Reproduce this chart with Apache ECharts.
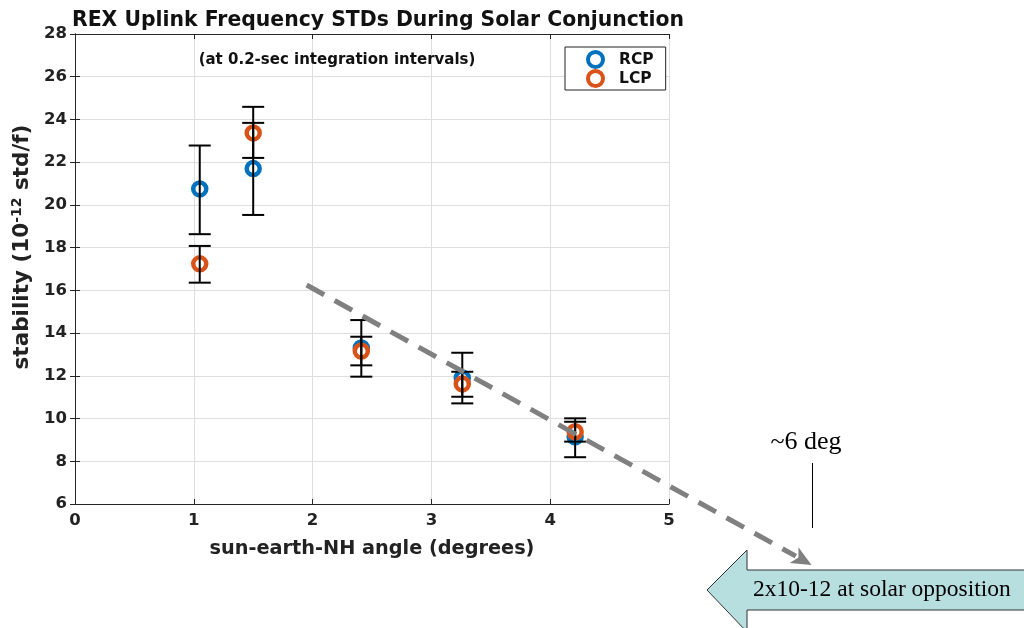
<!DOCTYPE html>
<html>
<head>
<meta charset="utf-8">
<script src="https://cdn.jsdelivr.net/npm/echarts@6/dist/echarts.min.js"></script>
<style>
html,body{margin:0;padding:0;background:#fff;}
#chart{width:1024px;height:628px;}
</style>
</head>
<body>
<div id="chart"></div>
<script>
// ---- data ----
const angles   = [1.05, 1.5, 2.41, 3.26, 4.21];
const rcp      = [20.75, 21.7, 13.3, 11.9, 9.15];
const rcpLow   = [18.63, 19.53, 11.96, 10.71, 8.19];
const rcpHigh  = [22.78, 23.84, 14.61, 13.08, 9.85];
const lcp      = [17.24, 23.37, 13.16, 11.62, 9.38];
const lcpLow   = [16.36, 22.2, 12.49, 11.02, 8.92];
const lcpHigh  = [18.08, 24.59, 13.83, 12.19, 10.01];
const trendStart = [1.95, 16.25];
const trendEnd   = [6.2, 3.15];
const xTicks = [0, 1, 2, 3, 4, 5];
const yTicks = [6, 8, 10, 12, 14, 16, 18, 20, 22, 24, 26, 28];

const blue = '#0072BD', orange = '#D95319';
const FONT = 'DejaVu Sans';
const chart = echarts.init(document.getElementById('chart'));

function errRender(params, api) {
  const x = api.value(0);
  const lo = api.coord([x, api.value(1)]);
  const hi = api.coord([x, api.value(2)]);
  const w = 11;
  const st = {stroke: '#000', lineWidth: 2};
  return {type: 'group', children: [
    {type: 'line', shape: {x1: lo[0], y1: lo[1], x2: hi[0], y2: hi[1]}, style: st},
    {type: 'line', shape: {x1: lo[0]-w, y1: lo[1], x2: lo[0]+w, y2: lo[1]}, style: st},
    {type: 'line', shape: {x1: hi[0]-w, y1: hi[1], x2: hi[0]+w, y2: hi[1]}, style: st}
  ]};
}

const axisFont = {fontFamily: FONT, fontWeight: 'bold', fontSize: 16.5, color: '#222'};
const xMin = xTicks[0], xMax = xTicks[xTicks.length-1];
const yMin = yTicks[0], yMax = yTicks[yTicks.length-1];

const option = {
  backgroundColor: '#fff',
  animation: false,
  title: [{
    text: 'REX Uplink Frequency STDs During Solar Conjunction',
    left: 373, top: 6, textAlign: 'center',
    textStyle: {fontFamily: FONT, fontWeight: 'bold', fontSize: 20.4, color: '#111'}
  }, {
    text: '(at 0.2-sec integration intervals)',
    left: 332, top: 48, textAlign: 'center',
    textStyle: {fontFamily: FONT, fontWeight: 'bold', fontSize: 15, color: '#111'}
  }],
  legend: {
    left: 565, top: 47, orient: 'vertical',
    borderColor: '#222', borderWidth: 1, backgroundColor: '#fff',
    padding: [3, 12, 2, 21], itemGap: 0, itemWidth: 15, itemHeight: 15,
    itemStyle: {borderWidth: 4},
    textStyle: {fontFamily: FONT, fontWeight: 'bold', fontSize: 15.5, color: '#111', padding: [0, 0, 0, 11], lineHeight: 19},
    data: ['RCP', 'LCP']
  },
  grid: {left: 75, right: 355, top: 34, bottom: 124},
  xAxis: [{
    type: 'value', min: xMin, max: xMax, interval: 1,
    name: 'sun-earth-NH angle (degrees)', nameLocation: 'middle', nameGap: 35,
    nameTextStyle: {fontFamily: FONT, fontWeight: 'bold', fontSize: 19.3, color: '#222'},
    axisLine: {lineStyle: {color: '#262626', width: 1}},
    axisTick: {inside: true, length: 5, lineStyle: {color: '#262626'}},
    axisLabel: Object.assign({margin: 8}, axisFont),
    splitLine: {show: true, lineStyle: {color: '#dedede', width: 1}}
  }, {
    type: 'value', position: 'top', min: xMin, max: xMax, interval: 1,
    axisLine: {lineStyle: {color: '#262626', width: 1}},
    axisTick: {inside: true, length: 5, lineStyle: {color: '#262626'}},
    axisLabel: {show: false}, splitLine: {show: false}
  }],
  yAxis: [{
    type: 'value', min: yMin, max: yMax, interval: 2,
    name: '{a|stability (10}{s|-12}{a| std/f)}', nameLocation: 'middle', nameGap: 28,
    nameRotate: 90,
    nameTextStyle: {
      padding: [0, 0, 0, 44],
      rich: {
        a: {fontFamily: FONT, fontWeight: 'bold', fontSize: 21.5, color: '#222', lineHeight: 24},
        s: {fontFamily: FONT, fontWeight: 'bold', fontSize: 14, color: '#222', lineHeight: 14, verticalAlign: 'top'}
      }
    },
    axisLine: {lineStyle: {color: '#262626', width: 1}},
    axisTick: {inside: true, length: 5, lineStyle: {color: '#262626'}},
    axisLabel: Object.assign({margin: 8}, axisFont),
    splitLine: {show: true, lineStyle: {color: '#dedede', width: 1}}
  }, {
    type: 'value', position: 'right', min: yMin, max: yMax, interval: 2,
    axisLine: {lineStyle: {color: '#262626', width: 1}},
    axisTick: {inside: true, length: 5, lineStyle: {color: '#262626'}},
    axisLabel: {show: false}, splitLine: {show: false}
  }],
  series: [{
    name: 'RCP', type: 'scatter', symbol: 'circle', symbolSize: 13, z: 3,
    itemStyle: {color: '#fff', borderColor: blue, borderWidth: 4.5, opacity: 1},
    data: angles.map((x, i) => [x, rcp[i]])
  }, {
    name: 'LCP', type: 'scatter', symbol: 'circle', symbolSize: 13, z: 4,
    itemStyle: {color: '#fff', borderColor: orange, borderWidth: 4.5, opacity: 1},
    data: angles.map((x, i) => [x, lcp[i]])
  }, {
    name: 'RCP err', type: 'custom', renderItem: errRender, z: 5,
    data: angles.map((x, i) => [x, rcpLow[i], rcpHigh[i]])
  }, {
    name: 'LCP err', type: 'custom', renderItem: errRender, z: 5,
    data: angles.map((x, i) => [x, lcpLow[i], lcpHigh[i]])
  }]
};
chart.setOption(option);

// trend arrow (data coordinates converted through the axes)
const p0 = chart.convertToPixel({gridIndex: 0}, trendStart);
const p1 = chart.convertToPixel({gridIndex: 0}, trendEnd);
const dx = p1[0]-p0[0], dy = p1[1]-p0[1];
const L = Math.sqrt(dx*dx+dy*dy), ux = dx/L, uy = dy/L;
const headLen = 20, headW = 9;
const base = [p1[0]-ux*headLen, p1[1]-uy*headLen];
chart.setOption({
  graphic: [
    {type: 'line', z: 10, shape: {x1: p0[0], y1: p0[1], x2: base[0]+ux*2, y2: base[1]+uy*2},
     style: {stroke: '#808080', lineWidth: 5, lineDash: [20, 12]}},
    {type: 'polygon', z: 10, shape: {points: [p1,
      [base[0]-uy*headW, base[1]+ux*headW],
      [base[0]+ux*5, base[1]+uy*5],
      [base[0]+uy*headW, base[1]-ux*headW]]},
     style: {fill: '#808080'}},
    {type: 'polygon', z: 9, shape: {points: [[707, 590], [747, 550], [747, 570], [1030, 570], [1030, 610], [747, 610], [747, 632]]},
     style: {fill: '#b8dfe0', stroke: '#333', lineWidth: 1}},
    {type: 'text', z: 11, x: 753, y: 590,
     style: {text: '2x10-12 at solar opposition', fontFamily: 'Liberation Serif', fontSize: 23.5, fill: '#000', verticalAlign: 'middle'}},
    {type: 'text', z: 11, x: 806, y: 442,
     style: {text: '~6 deg', fontFamily: 'Liberation Serif', fontSize: 26, fill: '#000', align: 'center', verticalAlign: 'middle'}},
    {type: 'line', z: 11, shape: {x1: 812.5, y1: 463, x2: 812.5, y2: 528}, style: {stroke: '#000', lineWidth: 1}}
  ]
});
</script>
</body>
</html>
